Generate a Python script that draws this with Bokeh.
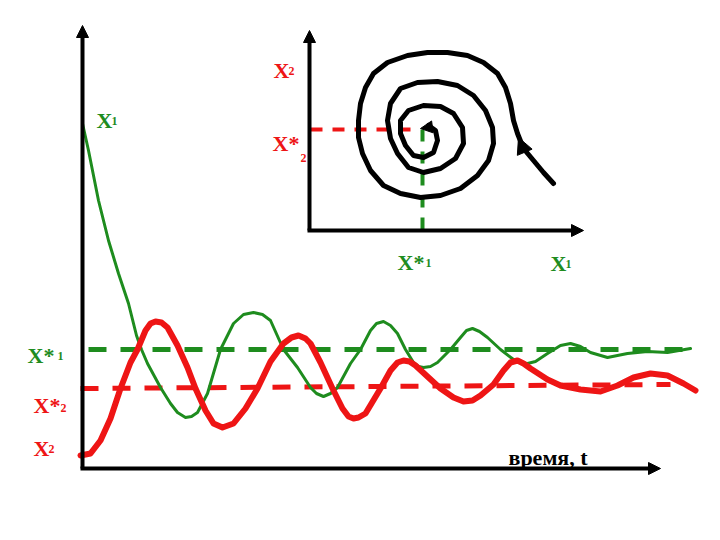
from bokeh.plotting import figure
from bokeh.models import Range1d, Arrow, NormalHead
from bokeh.core.properties import value
from bokeh.embed import file_html
from bokeh.resources import INLINE

# ---- main chart data (time t, value v) ----
green_t = [0, 0.6, 1.6, 2.6, 3.6, 4.6, 5.4, 5.9, 6.5, 7.8, 8.8, 9.5, 10.3, 10.9, 11.5, 12.5,
           13.8, 15.1, 16.1, 17.1, 18.0, 18.8, 20.1, 21.5, 22.8, 23.4, 24.1, 24.8, 25.5, 26.8,
           27.8, 28.8, 29.4, 30.1, 30.8, 31.5, 32.3, 33.1, 33.6, 34.1, 34.8, 35.5, 36.8, 37.8,
           38.4, 39.0, 39.7, 40.5, 41.8, 43.1, 43.8, 44.5, 45.3, 46.5, 47.8, 48.8, 49.8, 50.8,
           52.5, 54.5, 56.5, 58.5, 60.8]
green_v = [34.5, 31.8, 26.8, 22.8, 19.5, 16.5, 13.3, 11.9, 10.5, 8.1, 6.5, 5.6, 5.1, 5.2, 5.6, 7.5,
           11.9, 14.5, 15.4, 15.6, 15.4, 14.8, 11.9, 10.1, 8.1, 7.5, 7.2, 7.5, 8.1, 10.5,
           11.9, 13.8, 14.5, 14.7, 14.3, 13.5, 11.9, 10.6, 10.2, 10.1, 10.2, 10.6, 11.9, 13.1,
           13.8, 14.0, 13.7, 13.1, 11.9, 10.9, 10.6, 10.5, 10.7, 11.5, 12.3, 12.5, 12.2, 11.6,
           11.1, 11.5, 11.7, 11.6, 12.0]

red_t = [-0.2, 0.8, 1.8, 2.8, 3.8, 4.8, 5.5, 6.3, 6.8, 7.3, 7.9, 8.5, 9.5, 10.5, 11.3, 12.3,
         13.1, 14.0, 15.1, 16.3, 17.5, 18.8, 20.1, 20.9, 21.6, 22.3, 22.8, 23.8, 25.0, 26.0,
         26.6, 27.1, 27.6, 28.3, 29.8, 30.8, 31.5, 32.1, 32.7, 33.3, 34.6, 35.8, 37.1, 38.1,
         39.0, 39.8, 41.1, 42.1, 42.8, 43.5, 44.1, 44.8, 46.5, 47.8, 49.8, 51.8, 53.5, 55.1,
         56.8, 58.5, 60.1, 61.3]
red_v = [1.3, 1.5, 2.8, 5.0, 8.0, 10.6, 11.9, 13.8, 14.5, 14.7, 14.6, 14.1, 12.3, 10.1, 8.0, 5.8,
         4.5, 4.1, 4.5, 6.0, 8.0, 10.7, 12.5, 13.1, 13.3, 13.0, 12.5, 10.6, 8.0, 6.0,
         5.2, 5.0, 5.1, 5.5, 8.0, 9.8, 10.6, 10.8, 10.7, 10.3, 9.1, 8.0, 7.1, 6.7,
         6.8, 7.3, 8.4, 9.8, 10.6, 10.8, 10.5, 10.0, 8.9, 8.3, 7.9, 7.7, 8.3, 9.1,
         9.5, 9.3, 8.5, 7.8]

x1_star_t = [0.6, 60.8]
x1_star_v = [11.9, 11.9]
x2_star_t = [-0.2, 58.8]
x2_star_v = [8.0, 8.4]

# ---- phase portrait (inset) data: u = X1, w = X2 ----
spiral_u = [24.4, 23.4, 22.4, 21.4, 20.8, 20.4, 20.1, 19.6, 18.8, 17.4, 15.8, 13.8, 11.8, 9.8,
            7.8, 6.4, 5.6, 5.1, 4.9, 4.9, 5.3, 6.1, 7.4, 9.1, 11.1, 13.1, 15.1, 16.8, 17.9,
            18.4, 18.3, 17.6, 16.4, 14.8, 12.8, 10.8, 9.1, 8.1, 7.8, 8.1, 8.8, 9.9, 11.4,
            13.1, 14.6, 15.4, 15.3, 14.4, 13.1, 11.4, 9.9, 9.1, 9.1, 9.6, 10.4, 11.4, 12.4,
            12.8, 12.6, 11.9]
spiral_w = [4.7, 5.8, 7.0, 8.2, 9.7, 11.0, 12.7, 14.3, 15.7, 16.8, 17.5, 17.8, 17.8, 17.5,
            16.8, 15.7, 14.3, 12.7, 11.0, 9.3, 7.7, 6.0, 4.5, 3.7, 3.3, 3.5, 4.2, 5.5, 7.0,
            8.7, 10.3, 12.0, 13.5, 14.5, 14.9, 14.8, 14.2, 12.7, 11.0, 9.2, 7.7, 6.3, 5.8,
            6.2, 7.2, 8.7, 10.3, 11.7, 12.4, 12.5, 12.0, 11.0, 9.7, 8.5, 7.5, 7.3, 7.8,
            9.0, 10.0, 10.5]
eq_u = 11.3   # X*1 in phase plane
eq_w = 10.1   # X*2 in phase plane

GREEN = "#1e8c1e"
RED = "#ee1515"
FONT = value("Liberation Serif")

p = figure(width=704, height=524, x_range=Range1d(-8.2, 62.2), y_range=Range1d(-5.6, 46.8),
           x_axis_type=None, y_axis_type=None, min_border=0,
           toolbar_location=None, output_backend="svg")
p.grid.visible = False
p.outline_line_color = None
p.extra_x_ranges = {"inset": Range1d(-30.9, 39.5)}
p.extra_y_ranges = {"inset": Range1d(-29.4, 23.0)}

# ---- main chart ----
p.line(x1_star_t, x1_star_v, line_color=GREEN, line_width=5, line_dash="18 14")
p.line(x2_star_t, x2_star_v, line_color=RED, line_width=5, line_dash="18 14")
p.line(green_t, green_v, line_color=GREEN, line_width=3, line_join="round", line_cap="round")
p.line(red_t, red_v, line_color=RED, line_width=6, line_join="round", line_cap="round")

def head(size):
    return NormalHead(size=size, fill_color="black", line_color="black", line_width=1)

p.add_layout(Arrow(x_start=0, y_start=0, x_end=0, y_end=44.3, line_width=4, end=head(12)))
p.add_layout(Arrow(x_start=-0.2, y_start=0, x_end=57.8, y_end=0, line_width=4, end=head(12)))

def label(x, y, txt, color, size="22px", rn=None):
    kw = {}
    if rn:
        kw = dict(x_range_name=rn, y_range_name=rn)
    p.text(x=[x], y=[y], text=[txt], text_color=color, text_font=FONT,
           text_font_style="bold", text_font_size=size, text_align="left",
           text_baseline="alphabetic", **kw)

label(1.4, 34.8, "X", GREEN)
label(2.9, 34.8, "1", GREEN, "12px")
label(-5.5, 11.3, "X*", GREEN)
label(-2.5, 11.3, "1", GREEN, "12px")
label(-4.9, 6.3, "X*", RED)
label(-2.2, 6.1, "2", RED, "12px")
label(-4.9, 2.0, "X", RED)
label(-3.4, 2.0, "2", RED, "12px")
label(42.6, 1.1, "время, t", "black")

# ---- inset: phase portrait ----
r = dict(x_range_name="inset", y_range_name="inset")
p.line([0.1, eq_u - 0.2], [eq_w, eq_w], line_color=RED, line_width=4, line_dash="12 10", **r)
p.line([eq_u, eq_u], [eq_w, 0], line_color=GREEN, line_width=4, line_dash="12 10", **r)
p.line(spiral_u, spiral_w, line_color="black", line_width=5, line_join="round", line_cap="round", **r)
p.add_layout(Arrow(x_start=21.7, y_start=7.4, x_end=20.9, y_end=9.3, line_alpha=0,
                   end=head(16), **r))
p.add_layout(Arrow(x_start=12.6, y_start=10.4, x_end=11.1, y_end=10.2, line_alpha=0,
                   end=head(12), **r))
p.add_layout(Arrow(x_start=0, y_start=0, x_end=0, y_end=20.0, line_width=4, end=head(12), **r))
p.add_layout(Arrow(x_start=-0.2, y_start=0, x_end=27.4, y_end=0, line_width=4, end=head(12), **r))

label(-3.6, 16.0, "X", RED, rn="inset")
label(-2.1, 16.0, "2", RED, "12px", rn="inset")
label(-3.7, 8.7, "X*", RED, rn="inset")
label(-0.9, 7.3, "2", RED, "12px", rn="inset")
label(8.8, -3.2, "X*", GREEN, rn="inset")
label(11.6, -3.2, "1", GREEN, "12px", rn="inset")
label(24.1, -3.3, "X", GREEN, rn="inset")
label(25.6, -3.3, "1", GREEN, "12px", rn="inset")

open("out.html", "w").write(file_html(p, INLINE))
